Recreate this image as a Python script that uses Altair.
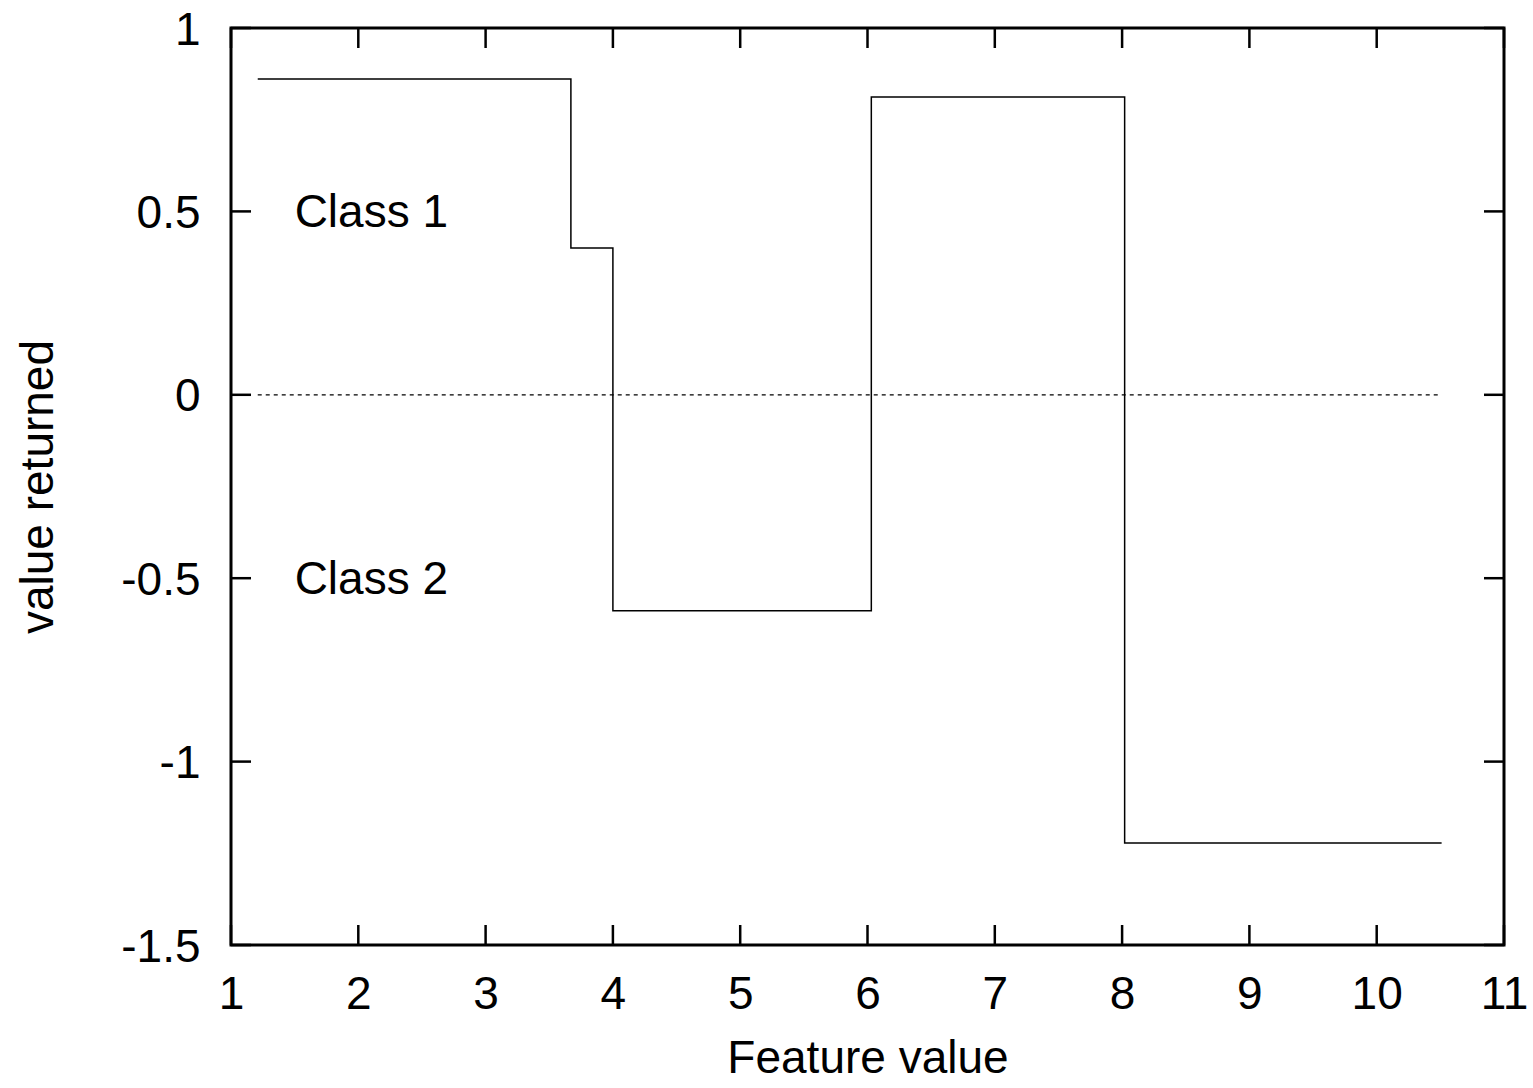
import altair as alt
import pandas as pd

# ---- data ----
step_x = [1.21, 3.67, 4.00, 6.03, 8.02, 10.51]
step_y = [0.861, 0.400, -0.589, 0.812, -1.222, -1.222]
zero_x = [1.21, 10.51]
zero_y = [0.0, 0.0]
x_ticks = [1, 2, 3, 4, 5, 6, 7, 8, 9, 10, 11]
y_ticks = [-1.5, -1.0, -0.5, 0.0, 0.5, 1.0]
label_text = ["Class 1", "Class 2"]
label_x = [1.5, 1.5]
label_y = [0.5, -0.5]

FONT = "Liberation Sans"
W, H = 1273, 917
FS = 46
TICK = 20

xsc = alt.Scale(domain=[1, 11], nice=False, zero=False)
ysc = alt.Scale(domain=[-1.5, 1], nice=False, zero=False)

step_df = pd.DataFrame({"x": step_x, "y": step_y})
zero_df = pd.DataFrame({"x": zero_x, "y": zero_y})
xt_df = pd.DataFrame({"x": x_ticks})
yt_df = pd.DataFrame({"y": y_ticks})
lab_df = pd.DataFrame({"x": label_x, "y": label_y, "t": label_text})

neg_fmt = "datum.value < 0 ? '-' + format(-datum.value, '~g') : format(datum.value, '~g')"

x_axis = alt.Axis(
    values=x_ticks, labelExpr=neg_fmt, title="Feature value",
    domain=False, grid=False, ticks=False, tickSize=0, labelFlush=False,
    labelFont=FONT, labelFontSize=FS, labelColor="black", labelPadding=27,
    titleFont=FONT, titleFontSize=FS, titleFontWeight="normal", titleColor="black",
    titleBaseline="alphabetic", titleY=127, titleX=W / 2,
)
y_axis = alt.Axis(
    values=y_ticks, labelExpr=neg_fmt, title="value returned",
    domain=False, grid=False, ticks=False, tickSize=0, labelFlush=False,
    labelFont=FONT, labelFontSize=FS, labelColor="black", labelPadding=31,
    labelOffset=2,
    titleFont=FONT, titleFontSize=FS, titleFontWeight="normal", titleColor="black",
    titleAngle=270, titleBaseline="alphabetic", titleAlign="center",
    titleX=-179, titleY=H / 2,
)

X = lambda: alt.X("x:Q", scale=xsc, axis=x_axis, title="Feature value")
Y = lambda: alt.Y("y:Q", scale=ysc, axis=y_axis, title="value returned")

step = alt.Chart(step_df).mark_line(
    interpolate="step-after", color="black", strokeWidth=1.5
).encode(x=X(), y=Y())

zero = alt.Chart(zero_df).mark_line(
    color="black", strokeWidth=1.2, strokeDash=[4, 4]
).encode(x=X(), y=Y())

tick_style = dict(color="black", strokeWidth=2.5)
xt_bottom = alt.Chart(xt_df).mark_rule(**tick_style).encode(
    x=X(), y=alt.value(H), y2=alt.value(H - TICK)
)
xt_top = alt.Chart(xt_df).mark_rule(**tick_style).encode(
    x=X(), y=alt.value(0), y2=alt.value(TICK)
)
yt_left = alt.Chart(yt_df).mark_rule(**tick_style).encode(
    y=Y(), x=alt.value(0), x2=alt.value(TICK)
)
yt_right = alt.Chart(yt_df).mark_rule(**tick_style).encode(
    y=Y(), x=alt.value(W), x2=alt.value(W - TICK)
)

labels = alt.Chart(lab_df).mark_text(
    align="left", baseline="middle", font=FONT, fontSize=FS, color="black", dy=2
).encode(x=X(), y=Y(), text="t:N")

chart = alt.layer(
    zero, step, xt_bottom, xt_top, yt_left, yt_right, labels
).properties(
    width=W, height=H,
    autosize=alt.AutoSizeParams(type="none"),
    padding={"left": 231, "top": 28, "right": 29, "bottom": 143},
    background="white",
).configure_view(
    stroke="black", strokeWidth=3
)

chart.save("out.html", embed_options={"renderer": "svg", "actions": False})
